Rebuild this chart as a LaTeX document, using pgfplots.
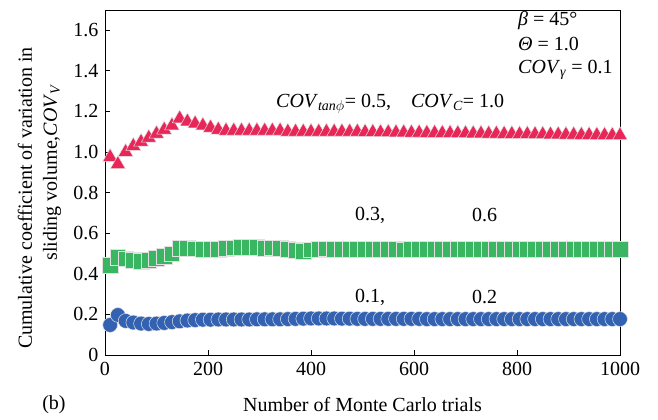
\documentclass[border=0pt]{standalone}
\usepackage{fontspec}
\setmainfont{Liberation Serif}
\usepackage{pgfplots}
\pgfplotsset{compat=1.18}

\definecolor{triC}{RGB}{232,38,88}
\definecolor{sqC}{RGB}{58,181,98}
\definecolor{cirC}{RGB}{52,98,178}
\definecolor{rimC}{RGB}{225,225,225}

\pgfplotstableread{
x    phi05  phi03  phi01
10   0.975  0.443  0.148
25   0.940  0.483  0.197
40   1.000  0.474  0.168
55   1.030  0.466  0.160
70   1.050  0.463  0.155
85   1.070  0.468  0.153
100  1.090  0.476  0.155
115  1.110  0.486  0.158
130  1.130  0.498  0.162
145  1.165  0.525  0.166
160  1.150  0.527  0.170
175  1.140  0.524  0.172
190  1.130  0.522  0.174
205  1.120  0.520  0.174
220  1.110  0.522  0.175
235  1.105  0.525  0.175
250  1.105  0.528  0.175
265  1.105  0.530  0.175
280  1.105  0.532  0.175
295  1.105  0.530  0.176
310  1.105  0.526  0.176
325  1.105  0.528  0.176
340  1.105  0.527  0.176
355  1.100  0.520  0.177
370  1.100  0.515  0.178
385  1.100  0.512  0.179
400  1.100  0.518  0.180
415  1.100  0.520  0.180
430  1.100  0.524  0.180
445  1.100  0.522  0.180
460  1.100  0.520  0.179
475  1.100  0.522  0.179
490  1.100  0.520  0.178
505  1.098  0.521  0.178
520  1.098  0.522  0.178
535  1.097  0.521  0.178
550  1.097  0.520  0.178
565  1.096  0.520  0.178
580  1.096  0.519  0.178
595  1.095  0.520  0.178
610  1.095  0.520  0.178
625  1.094  0.520  0.177
640  1.094  0.520  0.177
655  1.093  0.520  0.177
670  1.093  0.520  0.177
685  1.092  0.520  0.177
700  1.092  0.520  0.177
715  1.091  0.520  0.177
730  1.091  0.520  0.177
745  1.090  0.520  0.177
760  1.090  0.520  0.177
775  1.089  0.520  0.177
790  1.089  0.520  0.177
805  1.088  0.520  0.177
820  1.088  0.520  0.177
835  1.087  0.520  0.177
850  1.087  0.520  0.177
865  1.086  0.520  0.177
880  1.086  0.520  0.177
895  1.085  0.520  0.177
910  1.085  0.520  0.177
925  1.084  0.520  0.177
940  1.084  0.520  0.177
955  1.083  0.520  0.177
970  1.083  0.520  0.177
985  1.082  0.520  0.177
1000 1.082  0.522  0.177
}\covdata

\newcommand{\lbl}{\fontsize{20bp}{23bp}\selectfont}

\begin{document}
\begin{tikzpicture}[font=\lbl]
\begin{axis}[
  scale only axis,
  width=515bp, height=345bp,
  xmin=0, xmax=1000, ymin=0, ymax=1.7,
  xtick={0,200,400,600,800,1000},
  xticklabels={0,200,400,600,800,1000},
  ytick={0,0.2,0.4,0.6,0.8,1.0,1.2,1.4,1.6},
  yticklabels={0,0.2,0.4,0.6,0.8,1.0,1.2,1.4,1.6},
  tick align=inside,
  xtick pos=bottom, ytick pos=left,
  major tick length=5bp,
  tick style={black, line width=0.8bp},
  axis line style={black, line width=0.8bp},
  ticklabel style={font=\lbl},
  xticklabel style={yshift=-4bp},
  yticklabel style={xshift=-3bp},
  clip=false,
]
\addplot[only marks, mark=triangle*, mark size=8.6bp,
  mark options={fill=triC, draw=rimC, line width=0.5bp}]
  table[x=x, y=phi05] {\covdata};
\addplot[only marks, mark=square*, mark size=7.8bp,
  mark options={fill=sqC, draw=rimC, line width=0.5bp}]
  table[x=x, y=phi03] {\covdata};
\addplot[only marks, mark=*, mark size=7.4bp,
  mark options={fill=cirC, draw=rimC, line width=0.5bp}]
  table[x=x, y=phi01] {\covdata};

% parameter box
\node[anchor=west, inner sep=0pt] at (axis cs:802,1.650) {\textit{β} = 45°};
\node[anchor=west, inner sep=0pt] at (axis cs:802,1.532) {\textit{Θ} = 1.0};
\node[anchor=west, inner sep=0pt] at (axis cs:802,1.404) {\textit{COV}\textsubscript{\textit{γ}} = 0.1};

% series labels
\node[anchor=west, inner sep=0pt] at (axis cs:332,1.240)
  {\textit{COV}\textsubscript{\textit{tan}$\phi$}= 0.5,\quad\textit{COV}\textsubscript{\textit{C}}= 1.0};
\node[inner sep=0pt] at (axis cs:515,0.690) {0.3,};
\node[inner sep=0pt] at (axis cs:737,0.690) {0.6};
\node[inner sep=0pt] at (axis cs:515,0.285) {0.1,};
\node[inner sep=0pt] at (axis cs:737,0.285) {0.2};

% axis titles
\node[rotate=90, inner sep=0pt] at ([xshift=-80bp]rel axis cs:0,0.455)
  {Cumulative coefficient of variation in};
\node[rotate=90, inner sep=0pt] at ([xshift=-53bp]rel axis cs:0,0.530)
  {sliding volume,\textit{COV}\textsubscript{\textit{V}}};
\node[inner sep=0pt] at ([yshift=-50bp]rel axis cs:0.5,0) {Number of Monte Carlo trials};
\node[inner sep=0pt] at ([xshift=-51bp,yshift=-50bp]rel axis cs:0,0) {(b)};
\end{axis}
\pgfresetboundingbox
\useasboundingbox (-105bp,-65bp) rectangle (553bp,355bp);
\end{tikzpicture}
\end{document}
